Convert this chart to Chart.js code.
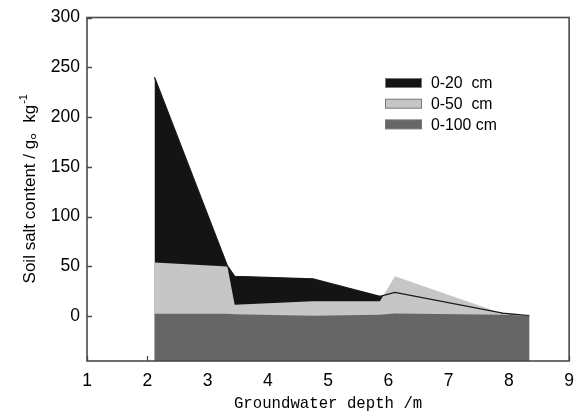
<!DOCTYPE html>
<html>
<head>
<meta charset="utf-8">
<script src="https://cdn.jsdelivr.net/npm/chart.js@4.4.0/dist/chart.umd.min.js"></script>
<style>
  html, body { margin: 0; padding: 0; background: #fff; }
  #wrap { width: 584px; height: 415px; }
</style>
</head>
<body>
<div id="wrap"><canvas id="grafico" width="584" height="415"></canvas></div>
<script>
// profundidade do lençol (m) e teor de sal (g/kg) por camada
const profundidade = [2.12, 3.33, 3.45, 4.75, 5.86, 6.11, 7.9, 8.34];
const sal0a20 = [240, 50.5, 40, 37.5, 20, 24, 3, 0.5];
const sal0a50 = [54, 50, 11.5, 15, 15, 40, 2.5, 0.5];
const sal0a100 = [2.5, 2.5, 2, 0.5, 1.5, 2.7, 1.5, 0.5];
const rotulos = ["0-20  cm", "0-50  cm", "0-100 cm"];
const cores = ["#141414", "#c6c6c6", "#666666"];
const ticksX = [1, 2, 3, 4, 5, 6, 7, 8, 9];
const ticksY = [0, 50, 100, 150, 200, 250, 300];

function pontos(valores) {
  return profundidade.map((x, i) => ({ x, y: valores[i] }));
}

const moldura = {
  id: "moldura",
  beforeDatasetsDraw(chart) {
    const { ctx, chartArea: a, scales } = chart;
    ctx.save();
    ctx.strokeStyle = "#4a4a4a";
    ctx.lineWidth = 1.3;
    ctx.beginPath();
    ticksX.forEach((v) => {
      const px = Math.round(scales.x.getPixelForValue(v)) + 0.5;
      ctx.moveTo(px, a.bottom);
      ctx.lineTo(px, a.bottom - 5);
    });
    ticksY.forEach((v) => {
      const py = Math.round(scales.y.getPixelForValue(v)) + 0.5;
      ctx.moveTo(a.left, py);
      ctx.lineTo(a.left + 5, py);
    });
    ctx.stroke();
    ctx.restore();
  },
  afterDraw(chart) {
    const { ctx, chartArea: a } = chart;
    ctx.save();
    ctx.strokeStyle = "#4a4a4a";
    ctx.lineWidth = 1.6;
    ctx.strokeRect(a.left, a.top, a.right - a.left, a.bottom - a.top);

    // legenda
    ctx.font = "15.8px 'Liberation Sans', Arial, sans-serif";
    ctx.textBaseline = "middle";
    rotulos.forEach((r, i) => {
      const y = 83 + i * 20.7;
      ctx.fillStyle = cores[i];
      ctx.fillRect(385, y - 4.5, 37, 9);
      ctx.lineWidth = 1;
      ctx.strokeStyle = "#777";
      ctx.strokeRect(385.5, y - 4.5, 36, 9);
      ctx.fillStyle = "#000";
      ctx.fillText(r, 431, y + 1);
    });

    // titulo eixo x
    ctx.font = "15.7px 'Liberation Mono', 'Courier New', monospace";
    ctx.textAlign = "center";
    ctx.textBaseline = "alphabetic";
    ctx.fillText("Groundwater depth /m", (a.left + a.right) / 2, 408);

    // titulo eixo y com expoente
    const base = "Soil salt content / g\u3002kg";
    const exp = "-1";
    ctx.translate(35, (a.top + a.bottom) / 2);
    ctx.rotate(-Math.PI / 2);
    ctx.font = "17px 'Liberation Sans', Arial, 'Noto Sans CJK SC', sans-serif";
    const wBase = ctx.measureText(base).width;
    ctx.font = "11px 'Liberation Sans', Arial, sans-serif";
    const wExp = ctx.measureText(exp).width;
    const x0 = -(wBase + wExp) / 2;
    ctx.textAlign = "left";
    ctx.font = "17px 'Liberation Sans', Arial, 'Noto Sans CJK SC', sans-serif";
    ctx.fillText(base, x0, 0);
    ctx.font = "11px 'Liberation Sans', Arial, sans-serif";
    ctx.fillText(exp, x0 + wBase + 1, -8);
    ctx.restore();
  }
};

const ctx = document.getElementById("grafico").getContext("2d");
new Chart(ctx, {
  type: "line",
  data: {
    datasets: [
      {
        label: rotulos[0],
        data: pontos(sal0a20),
        backgroundColor: cores[0],
        borderColor: cores[0],
        borderWidth: 0,
        fill: "start",
        order: 3
      },
      {
        label: rotulos[1],
        data: pontos(sal0a50),
        backgroundColor: cores[1],
        borderColor: cores[1],
        borderWidth: 0,
        fill: "start",
        order: 2
      },
      {
        label: "linha 0-20",
        data: pontos(sal0a20),
        borderColor: "#1a1a1a",
        borderWidth: 1.3,
        fill: false,
        order: 1
      },
      {
        label: rotulos[2],
        data: pontos(sal0a100),
        backgroundColor: cores[2],
        borderColor: cores[2],
        borderWidth: 0,
        fill: "start",
        order: 0
      }
    ]
  },
  options: {
    responsive: false,
    animation: false,
    layout: { padding: { top: 14, right: 11, left: 0, bottom: 0 } },
    elements: { point: { radius: 0 }, line: { tension: 0 } },
    plugins: { legend: { display: false }, tooltip: { enabled: false } },
    scales: {
      x: {
        type: "linear",
        min: 1,
        max: 9,
        grid: { display: false, drawTicks: false },
        border: { display: false },
        afterBuildTicks: (s) => { s.ticks = ticksX.map((v) => ({ value: v })); },
        afterFit: (s) => { s.height = 54; },
        ticks: {
          color: "#000",
          padding: 10,
          maxRotation: 0,
          font: { family: "'Liberation Sans', Arial, sans-serif", size: 17.5 }
        }
      },
      y: {
        type: "linear",
        min: -45,
        max: 300,
        grid: { display: false, drawTicks: false },
        border: { display: false },
        afterBuildTicks: (s) => { s.ticks = ticksY.map((v) => ({ value: v })); },
        afterFit: (s) => { s.width = 87; },
        ticks: {
          color: "#000",
          padding: 7,
          font: { family: "'Liberation Sans', Arial, sans-serif", size: 17.5 }
        }
      }
    }
  },
  plugins: [moldura]
});
</script>
</body>
</html>
